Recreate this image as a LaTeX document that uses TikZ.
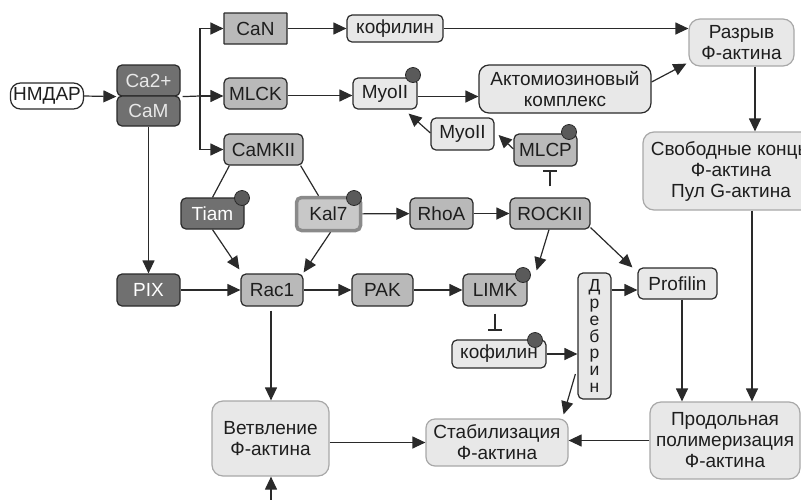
\documentclass[tikz,border=0pt]{standalone}
\usepackage{fontspec}
\setmainfont{Liberation Sans}
\usetikzlibrary{arrows.meta}
\definecolor{dk}{HTML}{707070}
\definecolor{md}{HTML}{B9B9B9}
\definecolor{lt}{HTML}{E8E8E8}
\definecolor{bd}{HTML}{2A2A2A}
\definecolor{lb}{HTML}{A8A8A8}
\definecolor{tx}{HTML}{1E1E1E}
\definecolor{dotc}{HTML}{5A5A5A}
\definecolor{kb}{HTML}{8A8A8A}
\definecolor{kf}{HTML}{C8C8C8}
\newcommand{\fs}{\fontsize{19}{21}\selectfont}
\begin{document}
\begin{tikzpicture}[x=1pt,y=-1pt,
  box/.style={draw=bd, line width=1.2pt, rounded corners=5pt, inner sep=0pt, font=\fs, text=tx, align=center},
  dkbox/.style={box, fill=dk, text=white},
  mdbox/.style={box, fill=md},
  ltbox/.style={box, fill=lt},
  bigbox/.style={box, fill=lt, draw=lb, rounded corners=11pt},
  arr/.style={line width=1.2pt, draw=bd, -{Triangle[length=13pt,width=12pt]}},
  inh/.style={line width=1.2pt, draw=bd, -{Bar[width=14pt,line width=1.6pt]}},
  plain/.style={line width=1.2pt, draw=bd},
  dot/.style={circle, fill=dotc, draw=bd, line width=0.8pt, minimum size=15pt, inner sep=0pt}]
\clip (0,0) rectangle (801,499);
% nodes
\node[box, fill=white, rounded corners=10pt, minimum width=73pt, minimum height=26pt] (nmdar) at (47,96) {НМДАР};
\node[dkbox, text=lt, minimum width=63pt, minimum height=31pt] (ca2) at (148.5,80.5) {Ca2+};
\node[dkbox, text=lt, minimum width=63pt, minimum height=30pt] (cam) at (148.5,111) {CaM};
\node[mdbox, rounded corners=0.5pt, line width=1.1pt, minimum width=63pt, minimum height=31pt] (can) at (255.5,28.5) {CaN};
\node[mdbox, minimum width=63pt, minimum height=31pt] (mlck) at (255.5,93.5) {MLCK};
\node[mdbox, minimum width=79pt, minimum height=31pt] (camkii) at (263.5,149.5) {CaMKII};
\node[ltbox, minimum width=96pt, minimum height=27pt] (kof1) at (395,28.5) {кофилин};
\node[ltbox, minimum width=64pt, minimum height=31pt] (myo1) at (385,93.5) {MyoII};
\node[ltbox, rounded corners=10pt, minimum width=172pt, minimum height=48pt] (akto) at (565,89) {Актомиозиновый\\комплекс};
\node[ltbox, minimum width=63pt, minimum height=32pt] (myo2) at (462.5,134) {MyoII};
\node[mdbox, minimum width=63pt, minimum height=32pt] (mlcp) at (545.5,150) {MLCP};
\node[bigbox, minimum width=105pt, minimum height=47pt] (razryv) at (741.5,42.5) {Разрыв\\Ф-актина};
\node[bigbox, minimum width=176pt, minimum height=78pt] (svob) at (731,171) {Свободные концы\\Ф-актина\\Пул G-актина};
\node[dkbox, minimum width=63pt, minimum height=31pt] (tiam) at (212.5,213.5) {Tiam};
\node[box, draw=kb, fill=kf, line width=3.5pt, minimum width=64pt, minimum height=33pt] (kal7) at (328.5,214) {Kal7};
\node[mdbox, minimum width=63pt, minimum height=31pt] (rhoa) at (441.5,213.5) {RhoA};
\node[mdbox, minimum width=80pt, minimum height=31pt] (rockii) at (550,213.5) {ROCKII};
\node[dkbox, minimum width=63pt, minimum height=32pt] (pix) at (148.5,290) {PIX};
\node[mdbox, minimum width=62pt, minimum height=32pt] (rac1) at (272,290) {Rac1};
\node[mdbox, minimum width=61pt, minimum height=32pt] (pak) at (382.5,290) {PAK};
\node[mdbox, minimum width=64pt, minimum height=32pt] (limk) at (495,290) {LIMK};
\node[ltbox, minimum width=79pt, minimum height=31pt] (profilin) at (677.5,283.5) {Profilin};
\node[ltbox, minimum width=33pt, minimum height=126pt, font=\fontsize{17.5}{16.9}\selectfont] (drebrin) at (594.5,336) {Д\\р\\е\\б\\р\\и\\н};
\node[ltbox, minimum width=94pt, minimum height=28pt] (kof2) at (499,354) {кофилин};
\node[bigbox, minimum width=150pt, minimum height=77pt] (prod) at (725,440.5) {Продольная\\полимеризация\\Ф-актина};
\node[bigbox, minimum width=117pt, minimum height=75pt] (vetv) at (270.5,438.5) {Ветвление\\Ф-актина};
\node[bigbox, rounded corners=9pt, minimum width=142pt, minimum height=47pt] (stab) at (497,442.5) {Стабилизация\\Ф-актина};
% dots
\node[dot] (d1) at (413,75) {};
\node[dot] (d2) at (569,132) {};
\node[dot] (d3) at (242,198) {};
\node[dot] (d4) at (354,198) {};
\node[dot] (d5) at (523,275) {};
\node[dot] (d6) at (535,340) {};
% connectors
\coordinate (br) at (200,96);
\coordinate (bot) at (271,505);
\draw[arr] (nmdar.east) -- (ca2.south west);
\draw[plain] ([xshift=2pt]ca2.south east) -- (br);
\draw[arr] (br) -- (br -| mlck.west);
\draw[arr] (br) |- (can.west);
\draw[arr] (br) |- (camkii.west);
\draw[arr] (cam.south) -- (pix.north);
\draw[arr] (can) -- (kof1);
\draw[arr] (kof1.east) -- (kof1.east -| razryv.west);
\draw[arr] ([yshift=-2pt]mlck.east) -- ([yshift=-2pt]myo1.west);
\draw[arr] ([yshift=-3pt]myo1.east) -- ([yshift=-3pt]myo1.east -| akto.west);
\draw[arr] ([yshift=7pt]akto.east) -- ([xshift=-2pt,yshift=3pt]razryv.south west);
\draw[arr] ([yshift=1pt]myo2.west) -- ([xshift=-9pt,yshift=-4pt]myo1.south east);
\draw[arr] ([yshift=1pt]mlcp.west) -- ([xshift=4pt,yshift=-1pt]myo2.east);
\draw[inh] ([yshift=11pt]rockii.north) -- ([yshift=27pt]rockii.north);
\draw[arr] ([xshift=13.5pt]razryv.south) -- ([xshift=13.5pt]razryv.south |- svob.north);
\draw[plain] ([xshift=6pt]camkii.south west) -- (tiam.north);
\draw[plain] ([xshift=-3pt]camkii.south east) -- ([xshift=-10pt]kal7.north);
\draw[arr] (kal7) -- (rhoa);
\draw[arr] (rhoa) -- (rockii);
\draw[arr] (tiam.south) -- ([xshift=-1pt,yshift=4pt]rac1.north west);
\draw[arr] ([xshift=2pt]kal7.south) -- ([yshift=1pt]rac1.north east);
\draw[arr] (pix) -- (rac1);
\draw[arr] (rac1) -- (pak);
\draw[arr] (pak) -- (limk);
\draw[arr] ([xshift=-1pt]rockii.south) -- ([xshift=9pt,yshift=3pt]limk.north east);
\draw[arr] ([yshift=2pt]rockii.south east) -- ([xshift=-5pt]profilin.north west);
\draw[inh] ([yshift=-7pt]limk.south) -- ([yshift=-24pt]limk.south);
\draw[arr] ([yshift=46pt]drebrin.east) -- ([yshift=46pt]drebrin.east -| profilin.west);
\draw[arr] (kof2.east) -- (kof2.east -| drebrin.west);
\draw[arr] ([xshift=-2pt,yshift=-38pt]drebrin.west) -- ([xshift=-5pt,yshift=4pt]stab.north east);
\draw[arr] ([xshift=4.5pt]profilin.south) -- ([xshift=4.5pt]profilin.south |- prod.north);
\draw[arr] ([xshift=21pt]svob.south) -- ([xshift=21pt]svob.south |- prod.north);
\draw[arr] (prod.west) -- (prod.west -| stab.east);
\draw[arr] ([xshift=-1pt,yshift=-4pt]rac1.south) -- ([xshift=-1pt]rac1.south |- vetv.north);
\draw[arr] (bot) -- (bot |- vetv.south);
\draw[arr] (stab.west -| vetv.east) -- (stab.west);
\end{tikzpicture}
\end{document}
